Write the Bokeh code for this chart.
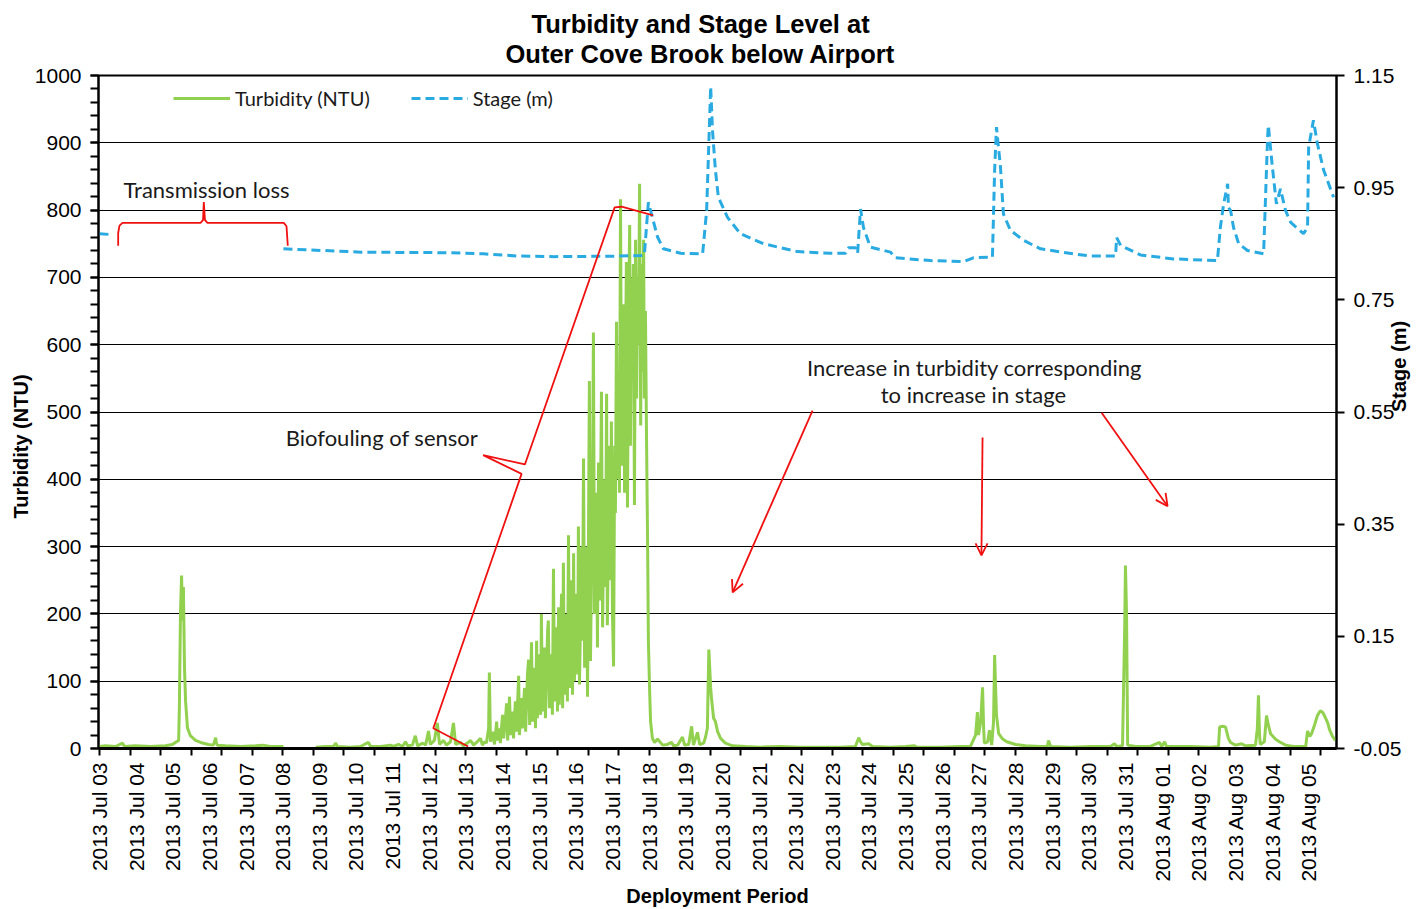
import math
from bokeh.plotting import figure
from bokeh.models import (Range1d, LinearAxis, FixedTicker, SingleIntervalTicker, Legend, LegendItem,
                          Title, Label, Arrow, OpenHead, Grid, NumeralTickFormatter)
from bokeh.embed import file_html
from bokeh.resources import INLINE

NAN = float("nan")

# ---------------- data (x = days since 2013-07-03 00:00) ----------------
tick_labels = ["2013 Jul 03", "2013 Jul 04", "2013 Jul 05", "2013 Jul 06", "2013 Jul 07", "2013 Jul 08",
               "2013 Jul 09", "2013 Jul 10", "2013 Jul 11", "2013 Jul 12", "2013 Jul 13", "2013 Jul 14",
               "2013 Jul 15", "2013 Jul 16", "2013 Jul 17", "2013 Jul 18", "2013 Jul 19", "2013 Jul 20",
               "2013 Jul 21", "2013 Jul 22", "2013 Jul 23", "2013 Jul 24", "2013 Jul 25", "2013 Jul 26",
               "2013 Jul 27", "2013 Jul 28", "2013 Jul 29", "2013 Jul 30", "2013 Jul 31", "2013 Aug 01",
               "2013 Aug 02", "2013 Aug 03", "2013 Aug 04", "2013 Aug 05"]

turb_day = [
    0.00, 0.16, 0.44, 0.63, 0.68, 0.98, 1.39, 1.80, 1.99, 2.07, 2.16, 2.18, 2.21, 2.24, 2.27, 2.29,
    2.32, 2.35, 2.40, 2.48, 2.62, 2.76, 2.97, 3.11, 3.17, 3.19, 3.22, 3.44, 3.85, 4.26, 4.45, 4.67,
    5.02, 5.20,
    5.90, 6.17, 6.39, 6.44, 6.50, 6.85, 7.12, 7.34, 7.40, 7.67, 7.94, 8.02, 8.16, 8.27, 8.35, 8.41,
    8.54, 8.62, 8.68, 8.82, 8.90, 8.98, 9.03, 9.14, 9.22, 9.28, 9.39, 9.47, 9.58, 9.66, 9.72, 9.85,
    9.93, 10.04, 10.13, 10.21, 10.29, 10.40, 10.45, 10.51, 10.56, 10.62, 10.64, 10.67, 10.73, 10.78,
    10.84, 10.86, 10.92, 10.94, 11.00, 11.03, 11.08, 11.11, 11.14, 11.19, 11.22, 11.27, 11.30, 11.35,
    11.38, 11.44, 11.46, 11.52, 11.54, 11.60, 11.63, 11.68, 11.71, 11.74, 11.79, 11.82, 11.87, 11.90,
    11.93, 11.95, 12.01, 12.04, 12.06, 12.09, 12.15, 12.17, 12.23, 12.25, 12.28, 12.34, 12.36, 12.39,
    12.42, 12.47, 12.50, 12.53, 12.55, 12.61, 12.64, 12.66, 12.69, 12.75, 12.77, 12.80, 12.83, 12.88,
    12.91, 12.94, 12.96, 13.02, 13.05, 13.07, 13.10, 13.16, 13.18, 13.21, 13.24, 13.29, 13.32, 13.35,
    13.37, 13.40, 13.46, 13.48, 13.51, 13.56, 13.59, 13.62, 13.65, 13.70, 13.73, 13.78, 13.81, 13.84,
    13.86, 13.92, 13.95, 13.97, 14.00, 14.03, 14.06, 14.08, 14.11, 14.14, 14.17, 14.19, 14.22, 14.25,
    14.27, 14.30, 14.33, 14.36, 14.38, 14.41, 14.44, 14.47, 14.49, 14.52, 14.55, 14.57, 14.60, 14.63,
    14.66, 14.68, 14.71, 14.74, 14.77, 14.79, 14.82, 14.85, 14.87, 14.90, 14.93, 14.96, 14.98, 15.01,
    15.04, 15.09, 15.15,
    15.23, 15.37, 15.50, 15.61, 15.67, 15.78, 15.91, 15.97, 16.08, 16.16, 16.21, 16.32, 16.38, 16.49,
    16.54, 16.59, 16.63, 16.68, 16.70, 16.76, 16.81, 16.87, 16.95, 17.08, 17.28, 17.63, 18.04, 18.59,
    19.13, 19.68, 20.22, 20.63, 20.72, 20.77, 20.82, 20.99, 21.10, 21.59, 22.00, 22.24, 22.30, 22.95,
    23.50, 23.77, 23.91, 23.96, 23.99, 24.05, 24.10, 24.13, 24.15, 24.24, 24.29, 24.35, 24.40, 24.43,
    24.45, 24.48, 24.54, 24.65, 24.76, 25.00, 25.27, 25.68, 25.87, 25.90, 25.96, 26.50, 27.05, 27.59,
    27.70, 27.76, 27.92, 27.98, 28.00, 28.03, 28.06, 28.28, 28.68, 28.93, 28.99, 29.07, 29.12, 29.78,
    30.32, 30.54, 30.57, 30.65, 30.73, 30.81, 30.87, 31.00, 31.17, 31.28, 31.55, 31.60, 31.63, 31.66,
    31.68, 31.79, 31.85, 31.90, 31.96, 32.09, 32.20, 32.37, 32.59, 32.92, 32.97, 33.03, 33.08, 33.16,
    33.24, 33.32, 33.38, 33.43, 33.52, 33.57, 33.65, 33.73,
]
turb_ntu = [
    3, 4, 3, 8, 3, 4, 3, 4, 6, 9, 12, 60, 200, 257, 190, 240,
    120, 70, 31, 19, 12, 9, 6, 5, 16, 8, 5, 4, 3, 4, 5, 3,
    3, NAN,
    2, 3, 3, 8, 3, 2, 3, 9, 3, 3, 5, 3, 6, 3, 10, 4,
    5, 19, 4, 8, 5, 26, 6, 12, 38, 6, 12, 5, 10, 38, 6, 9,
    4, 8, 12, 5, 9, 15, 5, 10, 8, 30, 113, 10, 25, 6,
    40, 12, 30, 8, 50, 15, 45, 67, 12, 77, 20, 55, 15, 70,
    25, 108, 20, 75, 30, 90, 25, 110, 132, 35, 158, 40, 120, 30,
    160, 45, 140, 50, 200, 55, 150, 45, 175, 190, 60, 140, 50, 267,
    70, 180, 55, 210, 65, 230, 60, 276, 80, 200, 70, 317, 90, 250,
    80, 290, 100, 230, 110, 330, 95, 300, 160, 431, 120, 300, 77, 351,
    546, 130, 420, 618, 200, 380, 150, 425, 220, 530, 180, 400, 240, 527,
    183, 450, 250, 486, 200, 122, 450, 350, 634, 400, 560, 380, 816, 420,
    600, 660, 380, 600, 723, 358, 650, 778, 450, 700, 560, 720, 362, 756,
    520, 700, 600, 839, 480, 720, 560, 756, 520, 650, 458, 300, 160, 94,
    40, 15, 9,
    14, 5, 6, 9, 4, 5, 17, 5, 6, 33, 5, 24, 6, 8,
    17, 30, 147, 90, 76, 45, 40, 25, 15, 8, 4, 3, 2, 3,
    2, 2, 2, 3, 16, 10, 6, 7, 3, 2, 3, 4, 2, 2,
    3, 3, 20, 54, 20, 40, 91, 30, 8, 10, 27, 5, 40, 139,
    101, 50, 22, 14, 10, 6, 4, 3, 3, 12, 3, 2, 3, 3,
    7, 3, 4, 180, 272, 200, 5, 3, 3, 9, 3, 10, 3, 3,
    2, 3, 32, 33, 32, 15, 9, 5, 7, 4, 5, 30, 79, 20,
    6, 10, 49, 35, 22, 14, 10, 5, 3, 3, 26, 18, 22, 35,
    49, 56, 54, 49, 38, 28, 18, 12,
]

stage_day = [
    0.00, 0.38, 2.00,
    5.02, 7.15, 9.50, 10.48, 11.46, 12.42, 14.19, 14.79, 14.87, 14.98, 15.09, 15.23, 15.39, 15.86,
    16.46, 16.57, 16.68, 16.73, 16.81, 16.89, 17.14, 17.49, 18.12, 19.05, 19.95, 20.36, 20.44, 20.63,
    20.69, 20.77, 20.85, 21.04, 21.59, 21.72, 22.68, 23.58, 23.85, 24.37, 24.43, 24.48, 24.59, 24.67,
    24.86, 25.22, 25.68, 26.58, 27.05, 27.73, 27.76, 27.87, 28.41, 29.31, 30.51, 30.59, 30.68, 30.79,
    30.81, 30.87, 30.95, 31.09, 31.33, 31.77, 31.88, 31.90, 32.01, 32.12, 32.23, 32.37, 32.51, 32.86,
    32.97, 33.00, 33.13, 33.24, 33.41, 33.68,
]
stage_m = [
    0.868, 0.866, NAN,
    0.841, 0.835, 0.834, 0.832, 0.828, 0.827, 0.828, 0.829, 0.830, 0.924, 0.897, 0.862, 0.841, 0.833,
    0.832, 0.909, 1.130, 1.052, 0.981, 0.933, 0.897, 0.868, 0.850, 0.836, 0.833, 0.833, 0.843, 0.843,
    0.833, 0.912, 0.879, 0.844, 0.835, 0.825, 0.820, 0.818, 0.825, 0.826, 0.981, 1.058, 0.986, 0.903,
    0.874, 0.856, 0.841, 0.832, 0.828, 0.828, 0.861, 0.847, 0.830, 0.823, 0.820, 0.879, 0.921, 0.957,
    0.915, 0.909, 0.879, 0.850, 0.838, 0.832, 1.040, 1.061, 0.987, 0.921, 0.948, 0.909, 0.888, 0.868,
    0.879, 1.022, 1.070, 1.028, 0.981, 0.933,
]

stage_ticks = [-0.05, 0.15, 0.35, 0.55, 0.75, 0.95, 1.15]

# annotation shapes (days, NTU)
brace_day = [0.510, 0.510, 0.546, 0.628, 2.757, 2.825, 2.847, 2.879, 2.947, 5.030, 5.104, 5.139]
brace_ntu = [747, 766, 777, 781, 781, 785, 812, 785, 781, 781, 776, 747]
bio_day = [10.06, 9.11, 11.52, 10.47, 11.61, 14.06, 14.25, 15.11]
bio_ntu = [3, 30, 408, 436, 422, 804, 805, 792]

GREEN = "#92D050"
BLUE = "#29ABE2"
RED = "#F01010"
TICK_FONT = "Liberation Sans"
NOTE_FONT = "Lato"

p = figure(width=1424, height=909, output_backend="svg", toolbar_location=None,
           x_range=Range1d(-0.027, 33.76), y_range=Range1d(0, 1000),
           x_axis_type=None, y_axis_type=None,
           min_border_left=98, min_border_right=88, min_border_top=75, min_border_bottom=161)
p.extra_y_ranges = {"stage": Range1d(-0.05, 1.15)}
p.outline_line_color = "black"
p.outline_line_width = 2
p.background_fill_color = "white"
p.border_fill_color = "white"

# titles (first in the list is the outer one)
p.title.text = "Turbidity and Stage Level at"
p.title.align = "left"
p.title.offset = 433
p.title.text_font = TICK_FONT
p.title.text_font_size = "25.5px"
p.title.text_font_style = "bold"
p.title.text_color = "black"
p.title.standoff = -14
p.add_layout(Title(text="Outer Cove Brook below Airport", align="left", offset=407,
                   text_font=TICK_FONT, text_font_size="25.5px", text_font_style="bold",
                   text_color="black", standoff=15), "above")

# left axis
yl = LinearAxis(ticker=SingleIntervalTicker(interval=100, num_minor_ticks=5))
yl.major_tick_out = 8
yl.major_tick_in = 0
yl.minor_tick_out = 8
yl.minor_tick_in = 0
yl.major_tick_line_width = 2
yl.minor_tick_line_width = 2
yl.axis_line_width = 2
yl.major_label_standoff = 9
yl.major_label_text_font = TICK_FONT
yl.major_label_text_font_size = "21px"
yl.major_label_text_color = "black"
p.add_layout(yl, "left")
p.add_layout(Title(text="Turbidity (NTU)", align="left", offset=230, standoff=0,
                   text_font=TICK_FONT, text_font_size="20px", text_font_style="bold",
                   text_color="black"), "left")
p.add_layout(Grid(dimension=1, ticker=yl.ticker, grid_line_color="black", grid_line_width=1.2))

# right axis
yr = LinearAxis(y_range_name="stage", ticker=FixedTicker(ticks=stage_ticks),
                formatter=NumeralTickFormatter(format="0.00"), axis_label="Stage (m)")
yr.major_tick_out = 8
yr.major_tick_in = 0
yr.major_tick_line_width = 2
yr.axis_line_width = 2
yr.major_label_standoff = 9
yr.major_label_text_font = TICK_FONT
yr.major_label_text_font_size = "21px"
yr.major_label_text_color = "black"
yr.axis_label_text_font = TICK_FONT
yr.axis_label_text_font_size = "20px"
yr.axis_label_text_font_style = "bold"
yr.axis_label_text_color = "black"
yr.axis_label_standoff = -5
try:
    yr.axis_label_orientation = math.pi / 2
except Exception:
    pass
p.add_layout(yr, "right")

# bottom axis: labels every day, tick marks every 20 h
xl = LinearAxis(ticker=FixedTicker(ticks=list(range(len(tick_labels))),
                                   minor_ticks=[k * 20 / 24 for k in range(0, 41)]),
                axis_label="Deployment Period")
xl.major_label_overrides = {i: s for i, s in enumerate(tick_labels)}
xl.major_label_orientation = math.pi / 2
xl.axis_line_width = 3
xl.major_tick_line_color = None
xl.major_tick_out = 0
xl.major_tick_in = 0
xl.minor_tick_out = 7
xl.minor_tick_in = 0
xl.minor_tick_line_width = 2
xl.minor_tick_line_color = "black"
xl.major_label_standoff = 7
xl.major_label_text_font = TICK_FONT
xl.major_label_text_font_size = "21px"
xl.major_label_text_color = "black"
xl.axis_label_text_font = TICK_FONT
xl.axis_label_text_font_size = "20px"
xl.axis_label_text_font_style = "bold"
xl.axis_label_text_color = "black"
xl.axis_label_standoff = 0
p.add_layout(xl, "below")

# series
r_turb = p.line(turb_day, turb_ntu, line_color=GREEN, line_width=3)
r_stage = p.line(stage_day, stage_m, y_range_name="stage", line_color=BLUE, line_width=3,
                 line_dash="9 5")

# annotations
p.line(brace_day, brace_ntu, line_color=RED, line_width=1.8)
p.line(bio_day, bio_ntu, line_color=RED, line_width=1.8)
for (xs, ys, xe, ye) in [(19.46, 502, 17.28, 232), (24.10, 462, 24.07, 287), (27.35, 499, 29.15, 360)]:
    p.add_layout(Arrow(end=OpenHead(size=12, line_color=RED, line_width=1.8),
                       x_start=xs, y_start=ys, x_end=xe, y_end=ye,
                       line_color=RED, line_width=1.8))

for (tx, ty, txt) in [(2.92, 831, "Transmission loss"), (7.71, 462, "Biofouling of sensor"),
                      (23.88, 566, "Increase in turbidity corresponding"),
                      (23.85, 526, "to increase in stage")]:
    p.add_layout(Label(x=tx, y=ty, text=txt, text_font=NOTE_FONT, text_font_size="22px",
                       text_align="center", text_baseline="middle", text_color="#1a1a1a"))

legend = Legend(items=[LegendItem(label="Turbidity (NTU)", renderers=[r_turb]),
                       LegendItem(label="Stage (m)", renderers=[r_stage])],
                orientation="horizontal", location=(75, 638), glyph_width=57, glyph_height=20,
                label_standoff=5, spacing=41, padding=0, margin=0,
                border_line_color=None, background_fill_alpha=0,
                label_text_font=NOTE_FONT, label_text_font_size="20px", label_text_color="#1a1a1a")
p.add_layout(legend)

open("out.html", "w").write(file_html(p, INLINE))
